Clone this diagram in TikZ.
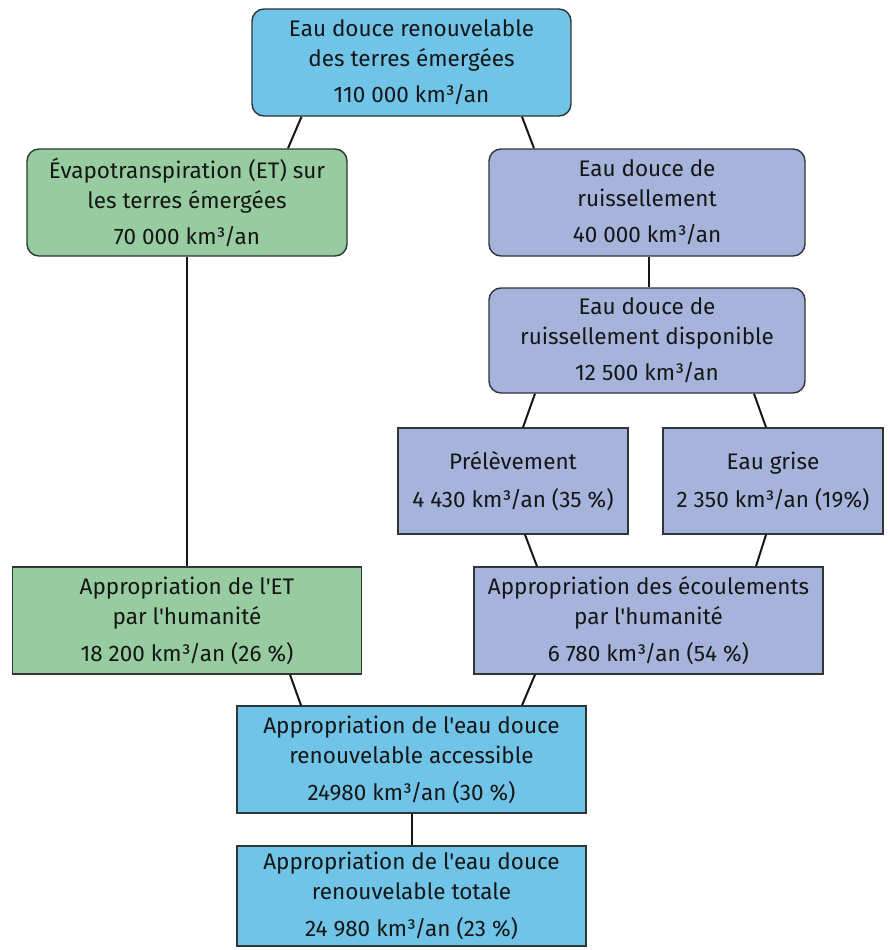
\documentclass[tikz,border=0pt]{standalone}
\usepackage{fontspec}
\setmainfont{Fira Sans}[Ligatures=TeXOff]
\definecolor{cblue}{HTML}{70C4E8}
\definecolor{cgreen}{HTML}{96CCA0}
\definecolor{cpurple}{HTML}{A6B4DC}
\definecolor{cborder}{HTML}{2E3638}
\definecolor{ctext}{HTML}{161616}
\begin{document}
\begin{tikzpicture}[x=1pt,y=1pt,
  box/.style={draw=cborder, line width=1.4pt, text=ctext, align=center, inner sep=0pt,
    font=\fontsize{22.5}{30}\selectfont},
  rbox/.style={box, rounded corners=12pt},
  conn/.style={draw=ctext, line width=2pt}]
\useasboundingbox (0,0) rectangle (890,-950);
\node[rbox, fill=cblue, minimum width=319pt, minimum height=107pt] (b1) at (411.5,-62.5)
  {Eau douce renouvelable\\des terres émergées\\[6pt]110 000 km³/an};
\node[rbox, fill=cgreen, minimum width=320pt, minimum height=107pt] (b2) at (187,-202.5)
  {Évapotranspiration (ET) sur\\les terres émergées\\[6pt]70 000 km³/an};
\node[rbox, fill=cpurple, minimum width=316pt, minimum height=107pt] (b3) at (647,-202.5)
  {Eau douce de\\ruissellement\\[6pt]40 000 km³/an};
\node[rbox, fill=cpurple, minimum width=316pt, minimum height=105pt] (b4) at (647,-340.5)
  {Eau douce de\\ruissellement disponible\\[6pt]12 500 km³/an};
\node[box, fill=cpurple, minimum width=230pt, minimum height=106pt] (b5) at (513,-481)
  {Prélèvement\\[8pt]4 430 km³/an (35 \%)};
\node[box, fill=cpurple, minimum width=220pt, minimum height=106pt] (b6) at (773,-481)
  {Eau grise\\[8pt]2 350 km³/an (19\%)};
\node[box, fill=cgreen, minimum width=349pt, minimum height=107pt] (b7) at (187,-620.5)
  {Appropriation de l'ET\\par l'humanité\\[7pt]18 200 km³/an (26 \%)};
\node[box, fill=cpurple, minimum width=349pt, minimum height=107pt] (b8) at (648.5,-620.5)
  {Appropriation des écoulements\\par l'humanité\\[7pt]6 780 km³/an (54 \%)};
\node[box, fill=cblue, minimum width=349pt, minimum height=107pt] (b9) at (411.5,-759.5)
  {Appropriation de l'eau douce\\renouvelable accessible\\[7pt]24980 km³/an (30 \%)};
\node[box, fill=cblue, minimum width=349pt, minimum height=100pt] (b10) at (411.5,-896)
  {Appropriation de l'eau douce\\renouvelable totale\\[7pt]24 980 km³/an (23 \%)};
\draw[conn] ([xshift=-110pt]b1.south) -- ([xshift=101pt]b2.north);
\draw[conn] ([xshift=110.5pt]b1.south) -- ([xshift=-113pt]b3.north);
\draw[conn] ([xshift=2pt]b3.south) -- ([xshift=2pt]b4.north);
\draw[conn] ([xshift=-112pt]b4.south) -- ([xshift=10pt]b5.north);
\draw[conn] ([xshift=107pt]b4.south) -- ([xshift=-7pt]b6.north);
\draw[conn] ([xshift=12pt]b5.south) -- ([xshift=-111.5pt]b8.north);
\draw[conn] ([xshift=-7pt]b6.south) -- ([xshift=107.5pt]b8.north);
\draw[conn] (b2.south) -- (b7.north);
\draw[conn] ([xshift=103pt]b7.south) -- ([xshift=-110.5pt]b9.north);
\draw[conn] ([xshift=-113.5pt]b8.south) -- ([xshift=110.5pt]b9.north);
\draw[conn] (b9.south) -- (b10.north);
\end{tikzpicture}
\end{document}
